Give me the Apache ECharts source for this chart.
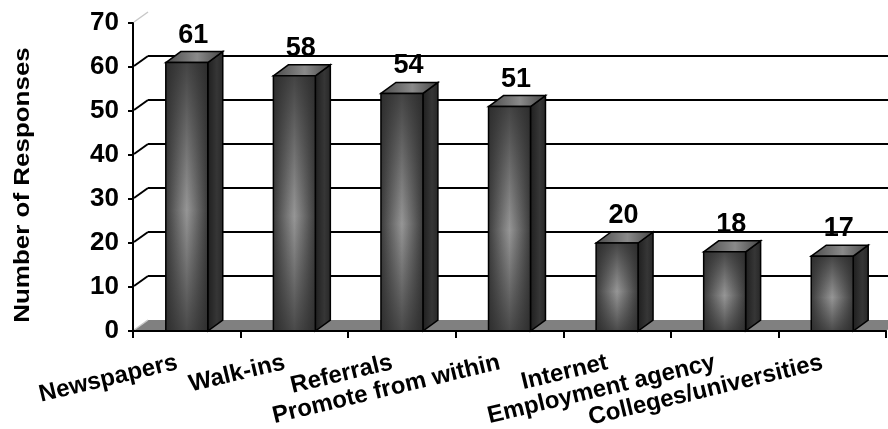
<!DOCTYPE html>
<html>
<head>
<meta charset="utf-8">
<script src="https://cdn.jsdelivr.net/npm/echarts@6/dist/echarts.min.js"></script>
<style>
  html, body { margin: 0; padding: 0; background: #ffffff; }
  #chart { width: 888px; height: 429px; }
</style>
</head>
<body>
<div id="chart"></div>
<script>
// ---- data ----
const categories = ['Newspapers', 'Walk-ins', 'Referrals', 'Promote from within', 'Internet', 'Employment agency', 'Colleges/universities'];
const responses = [61, 58, 54, 51, 20, 18, 17];
const yTicks = [0, 10, 20, 30, 40, 50, 60, 70];
const yTitle = 'Number of Responses';

// ---- style constants ----
const FONT = '"Liberation Sans", Arial, sans-serif';
const DX = 15, DY = -11;           // 3-D depth offset
const BAR_RATIO = 0.39;            // front face width / category width

const chart = echarts.init(document.getElementById('chart'), null, { renderer: 'canvas' });

function renderWall(params, api) {
  const cs = params.coordSys;
  const v = api.value(1);
  const p = api.coord([0, v]);
  const y = p[1];
  const x0 = cs.x, x1 = cs.x + cs.width;
  const children = [];
  if (v === yTicks[0]) {
    children.push({
      type: 'polygon', z2: 1,
      shape: { points: [[x0, y], [x0 + DX, y + DY], [x1 + DX, y + DY], [x1, y]] },
      style: { fill: '#808080', stroke: null }
    });
  }
  const light = (v === yTicks[0] || v === yTicks[yTicks.length - 1]);
  children.push({
    type: 'line', z2: 2,
    shape: { x1: x0 + 1, y1: y - 1, x2: x0 + DX, y2: y + DY },
    style: { stroke: light ? '#c8c8c8' : '#000', lineWidth: light ? 1.5 : 2 }
  });
  if (!light) {
    children.push({
      type: 'line', z2: 2,
      shape: { x1: x0 + DX, y1: y + DY, x2: x1 + DX, y2: y + DY },
      style: { stroke: '#000', lineWidth: 2.2 }
    });
  }
  return { type: 'group', children: children };
}

function renderBar(params, api) {
  const idx = api.value(0);
  const val = api.value(1);
  const top = api.coord([idx, val]);
  const base = api.coord([idx, 0]);
  const band = api.size([1, 0])[0];
  const w = band * BAR_RATIO;
  const xl = top[0] - w / 2, xr = top[0] + w / 2;
  const yt = top[1], yb = base[1];
  const h = yb - yt;
  const stroke = { stroke: '#000', lineWidth: 1.5 };
  return {
    type: 'group',
    children: [
      { // side face
        type: 'polygon',
        shape: { points: [[xr, yt], [xr + DX, yt + DY], [xr + DX, yb + DY], [xr, yb]] },
        style: Object.assign({
          fill: { type: 'linear', x: 0, y: 0, x2: 1, y2: 0,
            colorStops: [{ offset: 0, color: '#1e1e1e' }, { offset: 0.6, color: '#363636' }, { offset: 1, color: '#262626' }] }
        }, stroke)
      },
      { // top face
        type: 'polygon',
        shape: { points: [[xl, yt], [xl + DX, yt + DY], [xr + DX, yt + DY], [xr, yt]] },
        style: Object.assign({
          fill: { type: 'linear', x: 0, y: 0, x2: 1, y2: 0,
            colorStops: [{ offset: 0, color: '#4a4a4a' }, { offset: 0.55, color: '#8a8a8a' }, { offset: 1, color: '#444444' }] }
        }, stroke)
      },
      { // front face: horizontal shading
        type: 'rect',
        shape: { x: xl, y: yt, width: w, height: h },
        style: {
          fill: { type: 'linear', x: 0, y: 0, x2: 1, y2: 0,
            colorStops: [{ offset: 0, color: '#3c3c3c' }, { offset: 0.5, color: '#969696' }, { offset: 1, color: '#3c3c3c' }] }
        }
      },
      { // front face: vertical shading overlay
        type: 'rect',
        shape: { x: xl, y: yt, width: w, height: h },
        style: Object.assign({
          fill: { type: 'linear', x: 0, y: 0, x2: 0, y2: 1,
            colorStops: [{ offset: 0, color: 'rgba(40,40,40,0.75)' }, { offset: 0.55, color: 'rgba(40,40,40,0)' }, { offset: 1, color: 'rgba(40,40,40,0.7)' }] }
        }, stroke)
      },
      { // value label
        type: 'text',
        x: top[0] + DX / 2 - 1, y: yt + DY - 3,
        style: { text: String(val), font: 'bold 27px ' + FONT, fill: '#000', align: 'center', verticalAlign: 'bottom' }
      }
    ]
  };
}

const option = {
  backgroundColor: '#ffffff',
  animation: false,
  grid: { left: 133, right: 2, top: 23, bottom: 98, containLabel: false, outerBoundsMode: 'none' },
  xAxis: {
    type: 'category',
    data: categories,
    boundaryGap: true,
    z: 5,
    axisLine: { show: true, lineStyle: { color: '#000', width: 2 } },
    axisTick: { show: true, interval: 0, length: 7, lineStyle: { color: '#000', width: 2 } },
    axisLabel: {
      interval: 0, rotate: 13.5, margin: 29, hideOverlap: false,
      padding: [0, 10, 0, 0],
      fontFamily: FONT, fontSize: 24, fontWeight: 'bold', color: '#000'
    },
    splitLine: { show: false }
  },
  yAxis: {
    type: 'value',
    min: 0, max: 70, interval: 10,
    z: 5,
    axisLine: { show: true, lineStyle: { color: '#000', width: 2 } },
    axisTick: { show: true, length: 5, lineStyle: { color: '#000', width: 2 } },
    axisLabel: { margin: 14, fontFamily: FONT, fontSize: 26, fontWeight: 'bold', color: '#000' },
    splitLine: { show: false }
  },
  graphic: [{
    type: 'text',
    x: 23, y: 185,
    rotation: Math.PI / 2,
    scaleX: 1.18,
    style: { text: yTitle, font: 'bold 22px ' + FONT, fill: '#000', align: 'center', verticalAlign: 'middle' }
  }],
  series: [
    {
      type: 'custom', z: 1, silent: true,
      renderItem: renderWall,
      data: yTicks.map(function (v) { return [0, v]; })
    },
    {
      type: 'custom', z: 3, silent: true,
      renderItem: renderBar,
      data: responses.map(function (v, i) { return [i, v]; })
    }
  ]
};

chart.setOption(option);
</script>
</body>
</html>
